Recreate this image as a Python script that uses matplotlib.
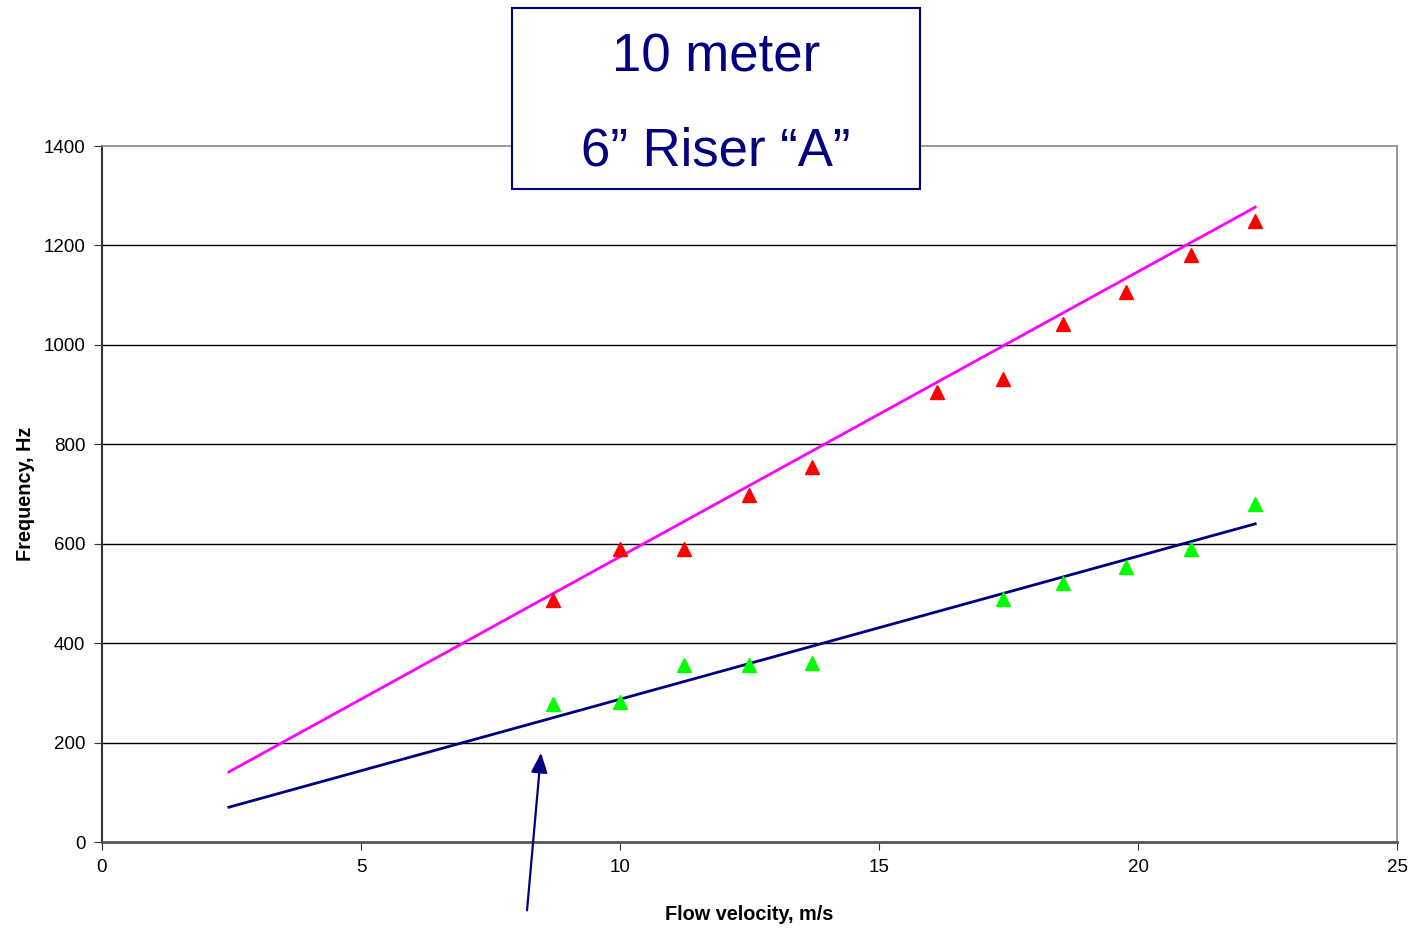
import matplotlib.pyplot as plt
from matplotlib.patches import Rectangle

plt.rcParams['font.family'] = ['Liberation Sans', 'DejaVu Sans']

# data
vel_red = [8.71, 10.0, 11.24, 12.49, 13.71, 16.12, 17.39, 18.55, 19.77, 21.02, 22.26]
freq_red = [487, 589, 589, 698, 754, 905, 931, 1042, 1106, 1181, 1249]

vel_green = [8.71, 10.0, 11.24, 12.49, 13.71, 17.39, 18.55, 19.77, 21.02, 22.26]
freq_green = [278, 282, 356, 356, 360, 489, 521, 553, 589, 680]

fit_x = [2.45, 22.26]
fit_upper = [141, 1277]
fit_lower = [70, 640]

navy = '#000080'

fig = plt.figure(figsize=(14.14, 9.3), dpi=100)
ax = fig.add_axes([0.0721, 0.0946, 0.916, 0.7484])

for y in [200, 400, 600, 800, 1000, 1200]:
    ax.axhline(y, color='black', lw=1, zorder=1)

ax.plot(fit_x, fit_upper, color='#ff00ff', lw=2, zorder=2)
ax.plot(fit_x, fit_lower, color=navy, lw=2, zorder=2)
ax.plot(vel_red, freq_red, '^', color='red', ms=9.5, mec='red', zorder=3)
ax.plot(vel_green, freq_green, '^', color='#00ff00', ms=9.5, mec='#00ff00', zorder=3)

ax.set_xlim(0, 25)
ax.set_ylim(0, 1400)
ax.set_xticks([0, 5, 10, 15, 20, 25])
ax.set_yticks([0, 200, 400, 600, 800, 1000, 1200, 1400])
ax.tick_params(labelsize=13.5, length=6, color='#333333', pad=6)

for s in ['top', 'right']:
    ax.spines[s].set_color('#888888')
    ax.spines[s].set_linewidth(1.2)
ax.spines['left'].set_color('#333333')
ax.spines['bottom'].set_color('#555555')
ax.spines['left'].set_linewidth(1.5)
ax.spines['bottom'].set_linewidth(2)

ax.set_xlabel('Flow velocity, m/s', fontsize=14.3, fontweight='bold', labelpad=21)
ax.set_ylabel('Frequency, Hz', fontsize=14.3, fontweight='bold', labelpad=6)
ax.yaxis.label.set_fontstretch('expanded')

ax.annotate('', xy=(8.48, 185), xytext=(8.2, -143), annotation_clip=False,
            arrowprops=dict(arrowstyle='-|>,head_width=0.5,head_length=1.2',
                            color=navy, lw=1.6))

# title box
fig.patches.append(Rectangle((512 / 1414, 1 - 189 / 930), 408 / 1414, 181 / 930,
                             transform=fig.transFigure, facecolor='white',
                             edgecolor=navy, lw=1.5, zorder=5))
fig.text(716 / 1414, 1 - 57 / 930, '10 meter', color=navy, fontsize=38,
         ha='center', va='center', zorder=6)
fig.text(716 / 1414, 1 - 152 / 930, '6\u201d Riser \u201cA\u201d', color=navy,
         fontsize=38, ha='center', va='center', zorder=6)

fig.savefig('out.png', dpi=100)
